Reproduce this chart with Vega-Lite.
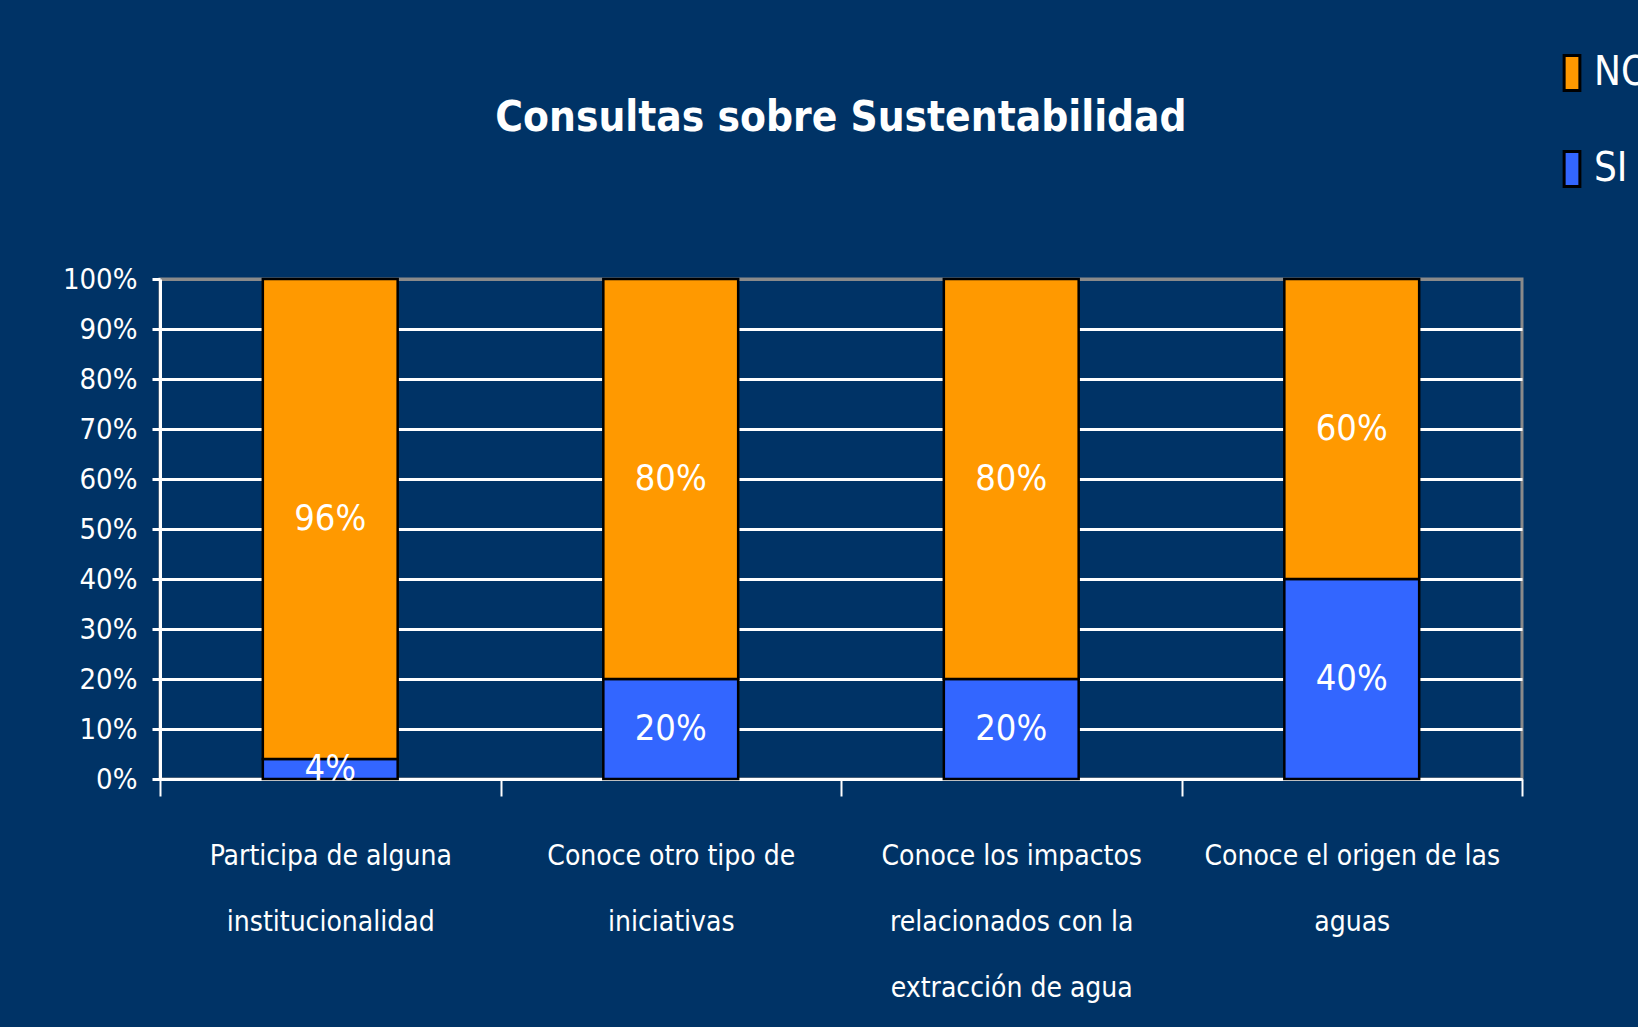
{
  "$schema": "https://vega.github.io/schema/vega-lite/v6.json",
  "width": 1362,
  "height": 500,
  "autosize": "none",
  "padding": {"left": 160, "top": 279, "right": 116, "bottom": 248},
  "background": "#003366",
  "title": {
    "text": "Consultas sobre Sustentabilidad",
    "font": "Liberation Sans Narrow, Arial Narrow, DejaVu Sans Condensed, Roboto Condensed, sans-serif",
    "fontWeight": "bold",
    "fontSize": 42,
    "color": "white",
    "anchor": "middle",
    "baseline": "alphabetic",
    "offset": 0,
    "dy": 120
  },
  "config": {
    "view": {"stroke": "#8a8a8a", "strokeWidth": 3},
    "font": "Liberation Sans Narrow, Arial Narrow, DejaVu Sans Condensed, Roboto Condensed, sans-serif"
  },
  "data": {
    "values": [
      {"pregunta": "Participa de alguna|institucionalidad", "respuesta": "SI", "valor": 0.04},
      {"pregunta": "Participa de alguna|institucionalidad", "respuesta": "NO", "valor": 0.96},
      {"pregunta": "Conoce otro tipo de|iniciativas", "respuesta": "SI", "valor": 0.2},
      {"pregunta": "Conoce otro tipo de|iniciativas", "respuesta": "NO", "valor": 0.8},
      {"pregunta": "Conoce los impactos|relacionados con la|extracción de agua", "respuesta": "SI", "valor": 0.2},
      {"pregunta": "Conoce los impactos|relacionados con la|extracción de agua", "respuesta": "NO", "valor": 0.8},
      {"pregunta": "Conoce el origen de las|aguas", "respuesta": "SI", "valor": 0.4},
      {"pregunta": "Conoce el origen de las|aguas", "respuesta": "NO", "valor": 0.6}
    ]
  },
  "transform": [
    {"stack": "valor", "groupby": ["pregunta"], "as": ["v0", "v1"], "sort": [{"field": "respuesta", "order": "descending"}]},
    {"calculate": "(datum.v0 + datum.v1) / 2", "as": "centro"}
  ],
  "encoding": {
    "x": {
      "field": "pregunta",
      "type": "nominal",
      "sort": null,
      "scale": {"paddingInner": 0, "paddingOuter": 0},
      "axis": {
        "title": null,
        "labelAngle": 0,
        "tickBand": "extent",
        "tickSize": 17,
        "tickWidth": 2,
        "tickColor": "white",
        "domainColor": "white",
        "domainWidth": 3,
        "labelColor": "white",
        "labelFontSize": 28,
        "labelLineHeight": 66,
        "labelPadding": 46,
        "labelBaseline": "top",
        "labelLimit": 500,
        "labelExpr": "split(datum.label, '|')",
        "grid": false
      }
    }
  },
  "layer": [
    {
      "mark": {"type": "bar", "stroke": "black", "strokeWidth": 2.5, "width": {"band": 0.396}},
      "encoding": {
        "y": {
          "field": "v0",
          "type": "quantitative",
          "scale": {"domain": [0, 1]},
          "axis": {
            "title": null,
            "values": [0, 0.1, 0.2, 0.3, 0.4, 0.5, 0.6, 0.7, 0.8, 0.9, 1],
            "format": ".0%",
            "labelColor": "white",
            "labelFontSize": 29,
            "labelPadding": 15,
            "tickSize": 8,
            "tickWidth": 3,
            "tickColor": "white",
            "domainColor": "white",
            "domainWidth": 3,
            "grid": true,
            "gridWidth": 3,
            "gridColor": {"condition": {"test": "datum.value === 1", "value": "#8a8a8a"}, "value": "white"},
            "gridOpacity": 1
          }
        },
        "y2": {"field": "v1"},
        "color": {
          "field": "respuesta",
          "type": "nominal",
          "scale": {"domain": ["NO", "SI"], "range": ["#FF9900", "#3366FF"]},
          "legend": {
            "title": null,
            "orient": "none",
            "legendX": 1392,
            "legendY": -226,
            "labelColor": "white",
            "labelFontSize": 40,
            "labelOffset": 2,
            "symbolType": "M-0.45,-1H0.45V1H-0.45Z",
            "symbolSize": 1225,
            "symbolStrokeColor": "black",
            "symbolStrokeWidth": 3,
            "symbolOpacity": 1,
            "rowPadding": 48
          }
        }
      }
    },
    {
      "mark": {"type": "text", "color": "white", "fontSize": 36, "baseline": "middle", "align": "center"},
      "encoding": {
        "y": {"field": "centro", "type": "quantitative"},
        "text": {"field": "valor", "type": "quantitative", "format": ".0%"}
      }
    }
  ]
}
